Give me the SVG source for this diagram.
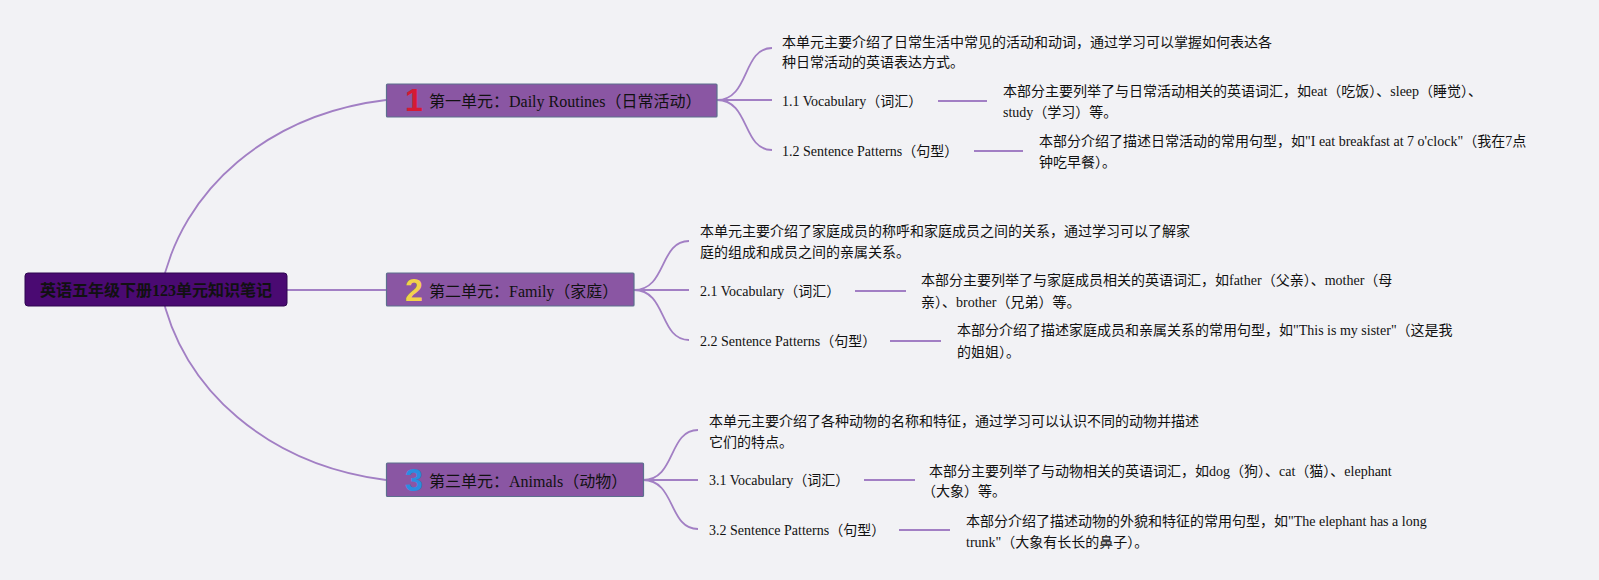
<svg xmlns="http://www.w3.org/2000/svg" width="1599" height="580" viewBox="0 0 1599 580">
<style>
.bg{fill:#f2f2f5}
.conn path{fill:none;stroke:#a27fc4;stroke-width:1.8}
.root rect{fill:#4a0a72;stroke:#2e0650;stroke-width:1}
.root text{font-family:"Liberation Serif","Noto Sans CJK SC",serif;font-size:16px;font-weight:bold;fill:#111;text-anchor:middle;dominant-baseline:central}
.unit rect{fill:#8a56a3;stroke:#5c6f8e;stroke-width:1.2}
.unit text.t{font-family:"Liberation Serif","Noto Sans CJK SC",serif;font-size:16px;fill:#111;dominant-baseline:central}
.num{font-family:"Liberation Sans","DejaVu Sans",sans-serif;font-size:32px;font-weight:bold;text-anchor:middle;dominant-baseline:central}
.leaf text{font-family:"Liberation Serif","Noto Sans CJK SC",serif;font-size:14px;fill:#111;dominant-baseline:central}
</style>
<rect class="bg" x="0" y="0" width="1599" height="580"/>
<g class="conn" id="connectors">
<path d="M161,290 C181,188 270,114 386,100"/>
<path d="M161,290 C181,391 270,465 386,480"/>
<path d="M287,290 L386,290"/>
<path d="M717,100 C750,100 742,48 772,48"/>
<path d="M717,100 L772,100"/>
<path d="M717,100 C750,100 742,150 772,150"/>
<path d="M938,101 L987,101"/>
<path d="M974,151 L1023,151"/>
<path d="M634,290 C667,290 659,241 689,241"/>
<path d="M634,290 L689,290"/>
<path d="M634,290 C667,290 659,340 689,340"/>
<path d="M855,291 L906,291"/>
<path d="M890,341 L941,341"/>
<path d="M643,480 C676,480 668,430 698,430"/>
<path d="M643,480 L698,480"/>
<path d="M643,480 C676,480 668,529 698,529"/>
<path d="M864,480 L915,480"/>
<path d="M899,530 L950,530"/>
</g>
<g class="root" id="root">
<rect x="25" y="273" width="262" height="33" rx="3"/>
<text x="156" y="290">英语五年级下册123单元知识笔记</text>
</g>
<g class="unit" id="unit1">
<rect x="386.5" y="84" width="330.5" height="33" rx="1"/>
<text class="num" x="414" y="100" fill="#d41a34">1</text>
<text class="t" x="429" y="101">第一单元：Daily Routines（日常活动）</text>
</g>
<g class="unit" id="unit2">
<rect x="386.5" y="273" width="247.5" height="33" rx="1"/>
<text class="num" x="414" y="290" fill="#f2d249">2</text>
<text class="t" x="429" y="291">第二单元：Family（家庭）</text>
</g>
<g class="unit" id="unit3">
<rect x="386.5" y="463" width="257" height="33.5" rx="1"/>
<text class="num" x="414" y="480" fill="#2b8de0">3</text>
<text class="t" x="429" y="481">第三单元：Animals（动物）</text>
</g>
<g class="leaf" id="u1-desc">
<text x="782" y="42">本单元主要介绍了日常生活中常见的活动和动词，通过学习可以掌握如何表达各</text>
<text x="782" y="62">种日常活动的英语表达方式。</text>
</g>
<g class="leaf" id="u1-vocab"><text x="782" y="101">1.1 Vocabulary（词汇）</text></g>
<g class="leaf" id="u1-vocab-d">
<text x="1003" y="91">本部分主要列举了与日常活动相关的英语词汇，如eat（吃饭）、sleep（睡觉）、</text>
<text x="1003" y="112">study（学习）等。</text>
</g>
<g class="leaf" id="u1-pat"><text x="782" y="151">1.2 Sentence Patterns（句型）</text></g>
<g class="leaf" id="u1-pat-d">
<text x="1039" y="141">本部分介绍了描述日常活动的常用句型，如"I eat breakfast at 7 o'clock"（我在7点</text>
<text x="1039" y="162">钟吃早餐）。</text>
</g>
<g class="leaf" id="u2-desc">
<text x="700" y="231">本单元主要介绍了家庭成员的称呼和家庭成员之间的关系，通过学习可以了解家</text>
<text x="700" y="252">庭的组成和成员之间的亲属关系。</text>
</g>
<g class="leaf" id="u2-vocab"><text x="700" y="291">2.1 Vocabulary（词汇）</text></g>
<g class="leaf" id="u2-vocab-d">
<text x="921" y="280">本部分主要列举了与家庭成员相关的英语词汇，如father（父亲）、mother（母</text>
<text x="921" y="302">亲）、brother（兄弟）等。</text>
</g>
<g class="leaf" id="u2-pat"><text x="700" y="341">2.2 Sentence Patterns（句型）</text></g>
<g class="leaf" id="u2-pat-d">
<text x="957" y="330">本部分介绍了描述家庭成员和亲属关系的常用句型，如"This is my sister"（这是我</text>
<text x="957" y="352">的姐姐）。</text>
</g>
<g class="leaf" id="u3-desc">
<text x="709" y="421">本单元主要介绍了各种动物的名称和特征，通过学习可以认识不同的动物并描述</text>
<text x="709" y="442">它们的特点。</text>
</g>
<g class="leaf" id="u3-vocab"><text x="709" y="480">3.1 Vocabulary（词汇）</text></g>
<g class="leaf" id="u3-vocab-d">
<text x="929" y="471">本部分主要列举了与动物相关的英语词汇，如dog（狗）、cat（猫）、elephant</text>
<text x="922" y="491">（大象）等。</text>
</g>
<g class="leaf" id="u3-pat"><text x="709" y="530">3.2 Sentence Patterns（句型）</text></g>
<g class="leaf" id="u3-pat-d">
<text x="966" y="521">本部分介绍了描述动物的外貌和特征的常用句型，如"The elephant has a long</text>
<text x="966" y="542">trunk"（大象有长长的鼻子）。</text>
</g>
</svg>
